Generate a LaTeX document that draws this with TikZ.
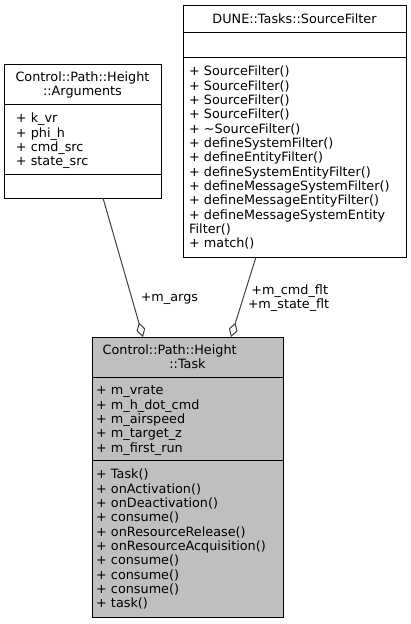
\documentclass[tikz,border=0pt]{standalone}
\usepackage{fontspec}
\setmainfont{DejaVu Sans}
\usetikzlibrary{arrows.meta}
\definecolor{edgegray}{HTML}{404040}
\definecolor{taskfill}{HTML}{BFBFBF}
\begin{document}
\begin{tikzpicture}[x=1pt,y=-1pt,
  font=\fontsize{12.8}{14.33}\selectfont,
  box/.style={draw=black, line width=1pt, inner sep=0pt, anchor=north west},
  divider/.style={draw=black, line width=1pt},
  txt/.style={inner sep=0pt, anchor=base west},
  ttl/.style={inner sep=0pt, anchor=base},
  rel/.style={draw=edgegray, line width=1pt, -{Diamond[open, length=15pt, width=9pt]}},
  lbl/.style={inner sep=0pt, anchor=base}]
\useasboundingbox (0,0) rectangle (411,624);

% --- DUNE::Tasks::SourceFilter
\node[box, fill=white, minimum width=223pt, minimum height=252pt] (sf) at (183,5) {};
\draw[divider] (183,32) -- (406,32);
\draw[divider] (183,57) -- (406,57);
\node[ttl] (sft) at (294.5,23.2) {DUNE::Tasks::SourceFilter};
\foreach [count=\i] \lab in {{+ SourceFilter()},{+ SourceFilter()},{+ SourceFilter()},{+ SourceFilter()},
  {+ \textasciitilde SourceFilter()},{+ defineSystemFilter()},{+ defineEntityFilter()},
  {+ defineSystemEntityFilter()},{+ defineMessageSystemFilter()},{+ defineMessageEntityFilter()},
  {+ defineMessageSystemEntity},{Filter()},{+ match()}}
  \node[txt] (sfm\i) at (189,{75.9+14.33*(\i-1)}) {\lab};

% --- Control::Path::Height::Arguments
\node[box, fill=white, minimum width=157pt, minimum height=134pt] (args) at (4,64) {};
\draw[divider] (4,104) -- (161,104);
\draw[divider] (4,174) -- (161,174);
\node[ttl] (argt1) at (82.5,81.5) {Control::Path::Height};
\node[ttl] (argt2) at (82.5,95.8) {::Arguments};
\foreach [count=\i] \lab in {{+ k\_vr},{+ phi\_h},{+ cmd\_src},{+ state\_src}}
  \node[txt] (arga\i) at (15.8,{122.9+14.33*(\i-1)}) {\lab};

% --- Control::Path::Height::Task
\node[box, fill=taskfill, minimum width=191pt, minimum height=280pt] (task) at (92,337) {};
\draw[divider] (92,377) -- (283,377);
\draw[divider] (92,460) -- (283,460);
\node[txt] (taskt1) at (102.5,354.5) {Control::Path::Height};
\node[ttl] (taskt2) at (187.5,368.9) {::Task};
\foreach [count=\i] \lab in {{+ m\_vrate},{+ m\_h\_dot\_cmd},{+ m\_airspeed},{+ m\_target\_z},{+ m\_first\_run}}
  \node[txt] (taska\i) at (96,{394.7+14.33*(\i-1)}) {\lab};
\foreach [count=\i] \lab in {{+ Task()},{+ onActivation()},{+ onDeactivation()},{+ consume()},
  {+ onResourceRelease()},{+ onResourceAcquisition()},{+ consume()},{+ consume()},{+ consume()},{+ task()}}
  \node[txt] (taskm\i) at (96,{478.7+14.33*(\i-1)}) {\lab};

% --- relations
\coordinate (argsout) at (103,198);
\coordinate (sfout) at (256,257);
\coordinate (taskin1) at (143,337);
\coordinate (taskin2) at (231,337);
\draw[rel] (argsout) -- (taskin1);
\draw[rel] (sfout) -- (taskin2);
\node[lbl] (l1) at (169.4,301.4) {+m\_args};
\node[lbl] (l2) at (289.7,294) {+m\_cmd\_flt};
\node[lbl] (l3) at (288.5,308) {+m\_state\_flt};
\end{tikzpicture}
\end{document}
